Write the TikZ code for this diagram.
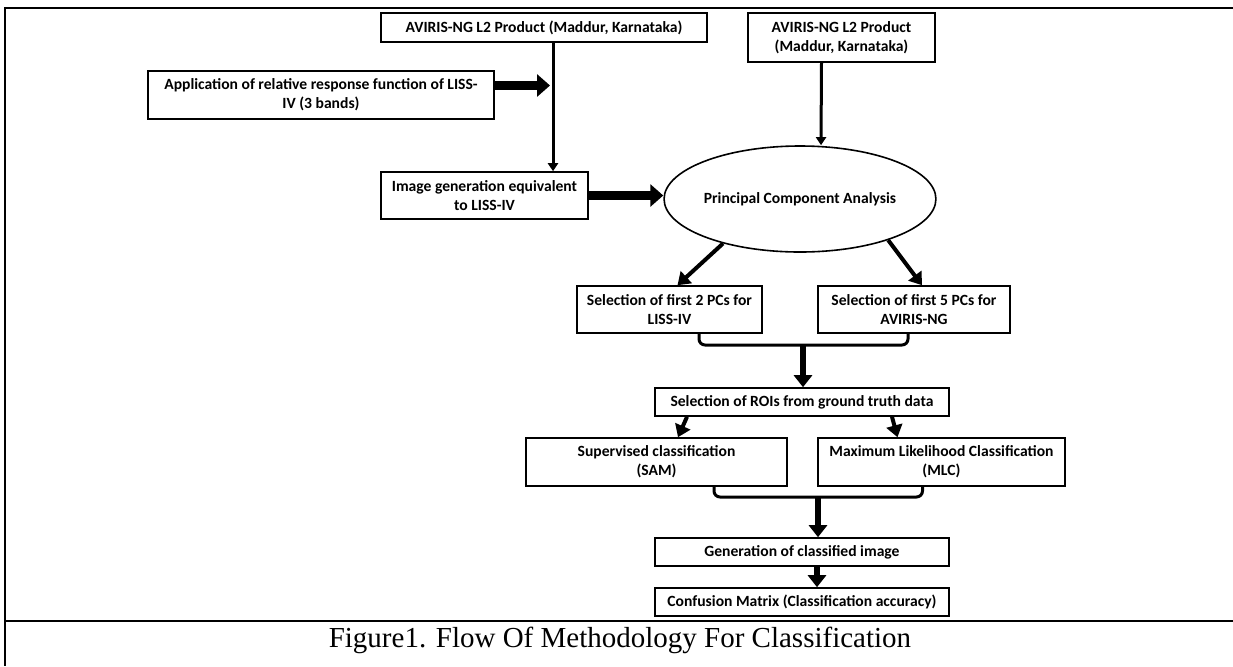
\documentclass[tikz,border=0pt]{standalone}
\usepackage{fontspec}
\setmainfont{Carlito}
\newfontfamily\capfont{Liberation Serif}
\usetikzlibrary{shapes.geometric, arrows.meta, positioning}

\tikzset{
  box/.style={draw, line width=.8pt, inner sep=0pt, align=center,
    font=\fontsize{7.8}{9.6}\selectfont\bfseries},
  thinarr/.style={-{Triangle[length=4pt,width=5pt]}, line width=1.5pt},
  blockarr/.style={-{Triangle[length=6.5pt,width=11pt]}, line width=4.75pt},
  medarr/.style={-{Triangle[length=6pt,width=8pt]}, line width=2pt},
  mergearr/.style={-{Triangle[length=6pt,width=9pt]}, line width=2.6pt},
  bracket/.style={line width=1.5pt, rounded corners=3pt}
}

\begin{document}
\begin{tikzpicture}[x=0.5pt, y=-0.5pt]
  \useasboundingbox (0,0) rectangle (1233,666);
  % frame of the figure
  \draw[line width=1.25pt] (1233,8) -- (5,8) -- (5,666);
  \draw[line width=1.25pt] (5,621) -- (1233,621);

  \node[box, minimum width=163pt, minimum height=14.5pt] (l2a) at (544,27.5)
    {AVIRIS-NG L2 Product (Maddur, Karnataka)};
  \node[box, minimum width=93.5pt, minimum height=24.5pt] (l2b) at (841.5,37.5)
    {AVIRIS-NG L2 Product\\(Maddur, Karnataka)};
  \node[box, minimum width=173pt, minimum height=24pt] (rrf) at (321,95)
    {Application of relative response function of LISS-\\IV (3 bands)};
  \node[box, minimum width=103.5pt, minimum height=23.5pt] (gen) at (484.5,195.5)
    {Image generation equivalent\\to LISS-IV};
  \node[draw, ellipse, line width=.8pt, minimum width=125pt, minimum height=53pt,
    inner sep=0pt, font=\fontsize{7.8}{9.6}\selectfont\bfseries] (pca) at (800,199)
    {Principal Component Analysis};
  \node[box, minimum width=92.5pt, minimum height=23.5pt] (pc2) at (669.5,309.5)
    {Selection of first 2 PCs for\\LISS-IV};
  \node[box, minimum width=96pt, minimum height=23.5pt] (pc5) at (914,309.5)
    {Selection of first 5 PCs for\\AVIRIS-NG};
  \node[box, minimum width=147pt, minimum height=14pt] (roi) at (802,402)
    {Selection of ROIs from ground truth data};
  \node[box, minimum width=130.5pt, minimum height=24pt] (sam) at (656.5,462)
    {Supervised classification\\(SAM)};
  \node[box, minimum width=123.5pt, minimum height=24pt] (mlc) at (941.5,462)
    {Maximum Likelihood Classification\\(MLC)};
  \node[box, minimum width=147pt, minimum height=14pt] (cls) at (802,552)
    {Generation of classified image};
  \node[box, minimum width=147pt, minimum height=14pt] (cm) at (802,602)
    {Confusion Matrix (Classification accuracy)};

  \node[font=\capfont\fontsize{14.5}{17}\selectfont] (cap) at (620,640)
    {Figure1. Flow Of Methodology For Classification};

  \coordinate (j) at (553,85.5);
  \coordinate (m1) at (803,345);
  \coordinate (m2) at (818,497);

  \draw[thinarr] (l2a.south -| j) -- (gen.north -| j);
  \draw[blockarr] (rrf.east |- j) -- ([xshift=-1.5pt]j);
  \draw[blockarr] (gen.east) -- (gen.east -| pca.west);
  \draw[thinarr] ([xshift=-10pt]l2b.south) -- ([xshift=10.5pt]pca.north);
  \draw[medarr] (pca.210) -- ([xshift=4pt]pc2.north);
  \draw[medarr] (pca.-25) -- ([xshift=4pt]pc5.north);

  \draw[bracket] ([xshift=14.75pt]pc2.south) |- (m1) -| ([xshift=-3pt]pc5.south);
  \draw[mergearr] (m1) -- (roi.north -| m1);

  \draw[medarr] ([xshift=-57.5pt]roi.south) -- ([xshift=10.75pt]sam.north);
  \draw[medarr] ([xshift=45pt]roi.south) -- ([xshift=-22pt]mlc.north);

  \draw[bracket] ([xshift=28.75pt]sam.south) |- (m2) -| ([xshift=-9.5pt]mlc.south);
  \draw[mergearr] (m2) -- (cls.north -| m2);
  \draw[mergearr] ([xshift=7.5pt]cls.south) -- ([xshift=7.5pt]cm.north);
\end{tikzpicture}
\end{document}
